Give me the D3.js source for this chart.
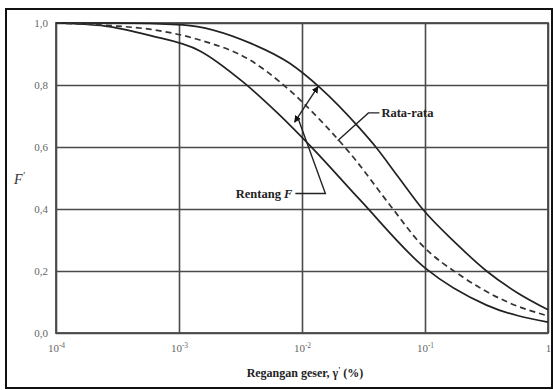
<!DOCTYPE html>
<html>
<head>
<meta charset="utf-8">
<script src="https://cdn.jsdelivr.net/npm/d3@7"></script>
<style>
  html, body { margin: 0; padding: 0; background: #fff; }
  svg { display: block; }
  text { font-family: "Liberation Serif", "DejaVu Serif", serif; }
</style>
</head>
<body>
<svg id="chart" width="553" height="390"></svg>
<script>
// Shear strain (%) and modulus reduction F' for the range bounds and the mean curve
const upperStrain = [1e-4, 10 ** -3.5, 10 ** -2.97, 10 ** -2.42, 10 ** -2.1, 10 ** -1.85, 10 ** -1.53, 10 ** -1.4, 10 ** -1.22, 10 ** -1.02, 10 ** -0.75, 10 ** -0.5, 10 ** -0.25, 1];
const upperF      = [1.0, 1.0, 0.994, 0.935, 0.87, 0.79, 0.66, 0.6, 0.505, 0.4, 0.29, 0.2, 0.13, 0.075];

const lowerStrain = [1e-4, 10 ** -3.6, 10 ** -3.24, 10 ** -2.83, 10 ** -2.48, 10 ** -2.2, 10 ** -1.9, 10 ** -1.53, 10 ** -1, 10 ** -0.5, 1];
const lowerF      = [1.0, 0.99, 0.96, 0.91, 0.81, 0.71, 0.59, 0.43, 0.21, 0.09, 0.035];

const meanStrain  = [1e-4, 10 ** -3.5, 10 ** -3.24, 10 ** -2.83, 10 ** -2.42, 10 ** -2.18, 10 ** -1.8, 10 ** -1.61, 10 ** -1.28, 10 ** -1.04, 10 ** -0.69, 10 ** -0.33, 1];
const meanF       = [1.0, 0.99, 0.98, 0.945, 0.88, 0.81, 0.665, 0.58, 0.41, 0.29, 0.18, 0.10, 0.055];

const xTicks = [1e-4, 1e-3, 1e-2, 1e-1, 1];
const xTickLabels = [["10", "-4"], ["10", "-3"], ["10", "-2"], ["10", "-1"], ["1", ""]];
const yTicks = [0, 0.2, 0.4, 0.6, 0.8, 1.0];
const yTickLabels = ["0,0", "0,2", "0,4", "0,6", "0,8", "1,0"];

// Annotation anchors in data space
const rangeArrowStrain = [10 ** -2.06, 10 ** -1.87];
const rangeArrowF = [0.68, 0.795];
const rangeLeaderStrain = [10 ** -2.03, 10 ** -1.81];
const rangeLeaderF = [0.69, 0.45];
const meanLeaderStrain = [10 ** -1.71, 10 ** -1.46];
const meanLeaderF = [0.62, 0.71];

const svg = d3.select("#chart");
const plot = { left: 56, right: 548, top: 23, bottom: 333 };

const x = d3.scaleLog().domain([1e-4, 1]).range([plot.left, plot.right]);
const y = d3.scaleLinear().domain([0, 1]).range([plot.bottom, plot.top]);

// outer frame
svg.append("rect")
  .attr("x", 6).attr("y", 9).attr("width", 546).attr("height", 379)
  .attr("fill", "none").attr("stroke", "#111").attr("stroke-width", 2);

const gridColor = "#4a4a4a";

// vertical grid lines at each decade
svg.append("g")
  .attr("transform", `translate(0,${plot.bottom})`)
  .call(d3.axisBottom(x).tickValues(xTicks).tickSize(-(plot.bottom - plot.top)).tickFormat(""))
  .call(g => g.select(".domain").remove())
  .call(g => g.selectAll("line").attr("stroke", gridColor).attr("stroke-width", 1.6));

// horizontal grid lines
svg.append("g")
  .attr("transform", `translate(${plot.left},0)`)
  .call(d3.axisLeft(y).tickValues(yTicks).tickSize(-(plot.right - plot.left)).tickFormat(""))
  .call(g => g.select(".domain").remove())
  .call(g => g.selectAll("line").attr("stroke", gridColor).attr("stroke-width", 1.6));

// plot border
svg.append("rect")
  .attr("x", plot.left).attr("y", plot.top)
  .attr("width", plot.right - plot.left).attr("height", plot.bottom - plot.top)
  .attr("fill", "none").attr("stroke", gridColor).attr("stroke-width", 1.8);

// y tick labels
svg.append("g")
  .attr("transform", `translate(${plot.left},0)`)
  .call(d3.axisLeft(y).tickValues(yTicks).tickSize(0).tickPadding(8)
    .tickFormat((d, i) => yTickLabels[i]))
  .call(g => g.select(".domain").remove())
  .call(g => g.selectAll("text")
    .attr("font-family", "Liberation Serif, serif")
    .attr("font-size", 11).attr("fill", "#666"));

// x tick labels with superscript exponents
const xAxisG = svg.append("g")
  .attr("transform", `translate(0,${plot.bottom})`)
  .call(d3.axisBottom(x).tickValues(xTicks).tickSize(0).tickPadding(11).tickFormat(""))
  .call(g => g.select(".domain").remove());
xAxisG.selectAll(".tick text").each(function (d, i) {
  const t = d3.select(this)
    .attr("font-family", "Liberation Serif, serif")
    .attr("font-size", 11).attr("fill", "#666");
  const [base, exp] = xTickLabels[i];
  t.append("tspan").text(base);
  if (exp) t.append("tspan").attr("dy", -4).attr("font-size", 7.5).text(exp);
});

// curves
const line = d3.line()
  .x(d => x(d[0]))
  .y(d => y(d[1]))
  .curve(d3.curveMonotoneX);

const zip = (a, b) => a.map((v, i) => [v, b[i]]);

svg.append("path").datum(zip(upperStrain, upperF))
  .attr("d", line).attr("fill", "none").attr("stroke", "#222").attr("stroke-width", 1.7);
svg.append("path").datum(zip(lowerStrain, lowerF))
  .attr("d", line).attr("fill", "none").attr("stroke", "#222").attr("stroke-width", 1.7);
svg.append("path").datum(zip(meanStrain, meanF))
  .attr("d", line).attr("fill", "none").attr("stroke", "#333").attr("stroke-width", 1.7)
  .attr("stroke-dasharray", "6,4");

// double-headed arrow marking the range of F'
const defs = svg.append("defs");
defs.append("marker")
  .attr("id", "head").attr("viewBox", "0 0 10 10")
  .attr("refX", 9).attr("refY", 5)
  .attr("markerWidth", 5).attr("markerHeight", 5)
  .attr("orient", "auto-start-reverse")
  .append("path").attr("d", "M0,0 L10,5 L0,10 Z").attr("fill", "#111");

svg.append("line")
  .attr("x1", x(rangeArrowStrain[0])).attr("y1", y(rangeArrowF[0]))
  .attr("x2", x(rangeArrowStrain[1])).attr("y2", y(rangeArrowF[1]))
  .attr("stroke", "#222").attr("stroke-width", 1.4)
  .attr("marker-start", "url(#head)").attr("marker-end", "url(#head)");

// leader for "Rentang F"
const rx0 = x(rangeLeaderStrain[0]), ry0 = y(rangeLeaderF[0]);
const rx1 = x(rangeLeaderStrain[1]), ry1 = y(rangeLeaderF[1]);
svg.append("path")
  .attr("d", `M${rx0},${ry0} L${rx1},${ry1} L${rx1 - 30},${ry1}`)
  .attr("fill", "none").attr("stroke", "#222").attr("stroke-width", 1.4);

const rentang = svg.append("text")
  .attr("x", rx1 - 33).attr("y", ry1 + 4)
  .attr("text-anchor", "end")
  .attr("font-size", 12.5).attr("font-weight", "bold").attr("fill", "#222");
rentang.append("tspan").text("Rentang ");
rentang.append("tspan").attr("font-style", "italic").text("F");

// leader for "Rata-rata"
const mx0 = x(meanLeaderStrain[0]), my0 = y(meanLeaderF[0]);
const mx1 = x(meanLeaderStrain[1]), my1 = y(meanLeaderF[1]);
svg.append("path")
  .attr("d", `M${mx0},${my0} L${mx1},${my1} L${mx1 + 11},${my1}`)
  .attr("fill", "none").attr("stroke", "#222").attr("stroke-width", 1.4);

svg.append("text")
  .attr("x", mx1 + 13).attr("y", my1 + 4)
  .attr("font-size", 12.5).attr("font-weight", "bold").attr("fill", "#222")
  .text("Rata-rata");

// axis titles
const yTitle = svg.append("text")
  .attr("x", 14).attr("y", 184)
  .attr("font-size", 14).attr("font-style", "italic").attr("fill", "#333");
yTitle.append("tspan").text("F");
yTitle.append("tspan").attr("dy", -5).attr("font-size", 10).text("'");

const xTitle = svg.append("text")
  .attr("x", 305).attr("y", 377)
  .attr("text-anchor", "middle")
  .attr("font-size", 12).attr("font-weight", "bold").attr("fill", "#222");
xTitle.append("tspan").text("Regangan geser, γ");
xTitle.append("tspan").attr("dy", -4).attr("font-size", 8).text("'");
xTitle.append("tspan").attr("dy", 4).text(" (%)");
</script>
</body>
</html>
